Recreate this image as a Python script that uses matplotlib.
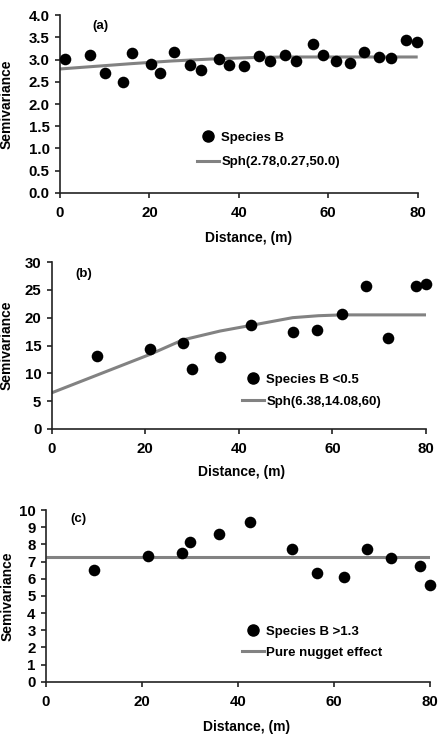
import matplotlib
matplotlib.use("Agg")
import matplotlib.pyplot as plt
from matplotlib.lines import Line2D

plt.rcParams['font.family'] = ['Liberation Sans', 'DejaVu Sans']
plt.rcParams['font.weight'] = 'bold'

# ---- Panel (a) data ----
a_dist = [1.1, 6.7, 10.1, 14.2, 16.2, 20.3, 22.4, 25.4, 29.1, 31.6, 35.6, 37.7, 41.2,
          44.4, 47.0, 50.3, 52.8, 56.5, 58.8, 61.7, 64.9, 68.0, 71.3, 74.0, 77.3, 79.8]
a_semi = [3.01, 3.11, 2.71, 2.50, 3.14, 2.90, 2.71, 3.17, 2.87, 2.76, 3.02, 2.89, 2.85,
          3.08, 2.97, 3.10, 2.98, 3.35, 3.11, 2.97, 2.93, 3.17, 3.06, 3.04, 3.45, 3.40]
a_model_x = [0, 16, 25, 35, 44, 50, 80]
a_model_y = [2.79, 2.91, 2.97, 3.02, 3.05, 3.06, 3.06]

# ---- Panel (b) data ----
b_dist = [9.6, 21.1, 28.1, 30.0, 36.0, 42.5, 51.5, 56.6, 62.0, 67.1, 71.9, 77.9, 80.0]
b_semi = [13.2, 14.4, 15.4, 10.8, 12.9, 18.6, 17.5, 17.7, 20.7, 25.7, 16.4, 25.6, 26.1]
b_model_x = [0, 21, 28, 36, 42.5, 51.5, 57, 62, 80]
b_model_y = [6.5, 13.4, 16.0, 17.6, 18.6, 20.0, 20.35, 20.5, 20.5]

# ---- Panel (c) data ----
c_dist = [10.1, 21.2, 28.3, 30.0, 36.1, 42.6, 51.4, 56.6, 62.1, 67.0, 71.9, 78.1, 80.0]
c_semi = [6.50, 7.32, 7.50, 8.12, 8.60, 9.28, 7.75, 6.35, 6.12, 7.71, 7.18, 6.74, 5.65]
c_model_x = [0, 80]
c_model_y = [7.28, 7.28]

W, H = 438, 736
fig = plt.figure(figsize=(W / 100, H / 100), dpi=100)

def box(l, r, t, b):
    return [l / W, 1 - b / H, (r - l) / W, (b - t) / H]

LINE_COLOR = '#828282'

panels = [
    dict(rect=box(60, 417.7, 15.3, 192.7), x=a_dist, y=a_semi, mx=a_model_x, my=a_model_y,
         ylim=(0, 4.0), yticks=[0.0, 0.5, 1.0, 1.5, 2.0, 2.5, 3.0, 3.5, 4.0], yfmt='{:.1f}',
         tag='(a)', tagpos=(7.2, 3.76), lab1='Species B', lab2='Sph(2.78,0.27,50.0)',
         leg=(0.383, 0.241), lsp=0.95, ylab_x=-0.131, xlab=(0.526, -0.255)),
    dict(rect=box(51.7, 426, 262, 429), x=b_dist, y=b_semi, mx=b_model_x, my=b_model_y,
         ylim=(0, 30), yticks=[0, 5, 10, 15, 20, 25, 30], yfmt='{:d}',
         tag='(b)', tagpos=(5.0, 27.9), lab1='Species B <0.5', lab2='Sph(6.38,14.08,60)',
         leg=(0.508, 0.229), lsp=0.75, ylab_x=-0.103, xlab=(0.508, -0.257)),
    dict(rect=box(46, 429.5, 510, 681.7), x=c_dist, y=c_semi, mx=c_model_x, my=c_model_y,
         ylim=(0, 10), yticks=list(range(0, 11)), yfmt='{:d}',
         tag='(c)', tagpos=(5.0, 9.5), lab1='Species B >1.3', lab2='Pure nugget effect',
         leg=(0.511, 0.230), lsp=0.7, ylab_x=-0.082, xlab=(0.523, -0.262)),
]

for p in panels:
    ax = fig.add_axes(p['rect'])
    ax.plot(p['mx'], p['my'], color=LINE_COLOR, lw=2.2, zorder=2, solid_capstyle='butt')
    ax.scatter(p['x'], p['y'], s=70, color='black', zorder=3, clip_on=False, linewidths=0)
    ax.set_xlim(0, 80)
    ax.set_ylim(*p['ylim'])
    ax.set_xticks([0, 20, 40, 60, 80])
    ax.set_yticks(p['yticks'])
    ax.set_yticklabels([p['yfmt'].format(v) for v in p['yticks']])
    for s in ['top', 'right']:
        ax.spines[s].set_visible(False)
    for s in ['left', 'bottom']:
        ax.spines[s].set_linewidth(1.2)
        ax.spines[s].set_color('#222222')
    ax.tick_params(axis='both', direction='out', length=3.5, width=1.2, color='#222222',
                   labelsize=10.8, pad=4)
    ax.tick_params(axis='x', pad=6)
    for lbl in ax.get_xticklabels() + ax.get_yticklabels():
        lbl.set_fontweight('bold')
    ax.set_ylabel('Semivariance', fontsize=10, fontweight='bold')
    ax.yaxis.set_label_coords(p['ylab_x'], 0.5)
    ax.set_xlabel('Distance, (m)', fontsize=10, fontweight='bold')
    ax.xaxis.set_label_coords(*p['xlab'])
    ax.xaxis.label.set_va('center')
    ax.text(p['tagpos'][0], p['tagpos'][1], p['tag'], fontsize=9.5, fontweight='bold',
            ha='left', va='center')
    handles = [Line2D([], [], marker='o', color='black', ls='none', markersize=8),
               Line2D([], [], color=LINE_COLOR, lw=2.2)]
    ax.legend(handles, [p['lab1'], p['lab2']], loc='center left',
              bbox_to_anchor=p['leg'], frameon=False, borderpad=0, borderaxespad=0,
              handlelength=1.7, handletextpad=0.15, labelspacing=p['lsp'],
              prop={'size': 9.5, 'weight': 'bold'})

fig.savefig('out.png', dpi=100)
